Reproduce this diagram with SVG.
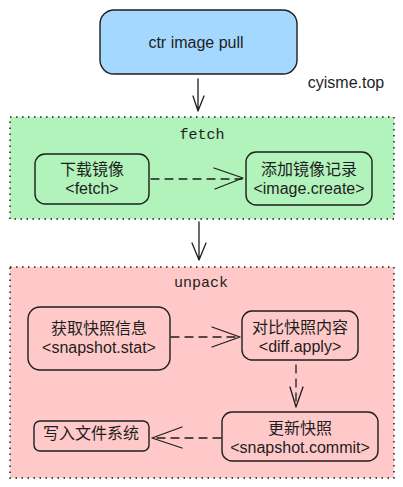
<svg xmlns="http://www.w3.org/2000/svg" width="403" height="487" viewBox="0 0 403 487">
<style>
text{font-family:"Liberation Sans","Noto Sans CJK SC",sans-serif;font-size:16px;fill:#1e1e1e;text-anchor:middle}
.grp{stroke:#1e1e1e;stroke-width:1.5;stroke-dasharray:1.5 4.5}
.node{fill:none;stroke:#1e1e1e;stroke-width:1.4}
.lbl{font-family:"Liberation Mono","DejaVu Sans Mono",monospace;font-size:15px}
.con{fill:none;stroke:#1e1e1e;stroke-width:1.3;stroke-linecap:round;stroke-linejoin:round}
.dash{stroke-dasharray:8 6}
</style>
<rect width="403" height="487" fill="#ffffff"/>
<g id="group-fetch">
<rect class="grp" x="10" y="117" width="384" height="102" fill="#b2f2bb"/>
<text class="lbl" x="202" y="139">fetch</text>
</g>
<g id="group-unpack">
<rect class="grp" x="10" y="267" width="384" height="211" fill="#ffc9c9"/>
<text class="lbl" x="201" y="287">unpack</text>
</g>
<g id="node-pull">
<rect x="100" y="10" width="197" height="64" rx="14" fill="#a5d8ff" stroke="#1e1e1e" stroke-width="1.4"/>
<text x="196" y="48">ctr image pull</text>
</g>
<g id="label-site">
<text x="346" y="88">cyisme.top</text>
</g>
<g id="node-fetch">
<rect class="node" x="35" y="154" width="114" height="50" rx="10"/>
<text x="92" y="175">下载镜像</text>
<text x="92" y="194">&lt;fetch&gt;</text>
</g>
<g id="node-create">
<rect class="node" x="246" y="152" width="126" height="53" rx="10"/>
<text x="309" y="175">添加镜像记录</text>
<text x="309" y="194">&lt;image.create&gt;</text>
</g>
<g id="node-stat">
<rect class="node" x="28" y="307" width="142" height="63" rx="12"/>
<text x="99" y="334">获取快照信息</text>
<text x="99" y="353">&lt;snapshot.stat&gt;</text>
</g>
<g id="node-diff">
<rect class="node" x="242" y="311" width="116" height="49" rx="10"/>
<text x="300" y="333">对比快照内容</text>
<text x="300" y="352">&lt;diff.apply&gt;</text>
</g>
<g id="node-commit">
<rect class="node" x="222" y="412" width="156" height="49" rx="10"/>
<text x="300" y="434">更新快照</text>
<text x="300" y="453">&lt;snapshot.commit&gt;</text>
</g>
<g id="node-fs">
<rect class="node" x="34" y="421" width="115" height="30" rx="6"/>
<text x="91" y="439">写入文件系统</text>
</g>
<g id="connectors">
<path class="con" d="M198 79 L198 111 M193 96 L198 111 L204 96"/>
<path class="con" d="M199 222 L199 260 M192 243 L199 260 L206 243"/>
<path class="con dash" d="M151 179 L242 179"/>
<path class="con" d="M214 168 L243 178 L215 189"/>
<path class="con dash" d="M171 337 L239 337"/>
<path class="con" d="M212 327 L240 337 L212 347"/>
<path class="con dash" d="M296 365 L296 405"/>
<path class="con" d="M290 387 L296 407 L303 387"/>
<path class="con dash" d="M221 438 L154 438"/>
<path class="con" d="M182 427 L152 438 L182 448"/>
</g>
</svg>
